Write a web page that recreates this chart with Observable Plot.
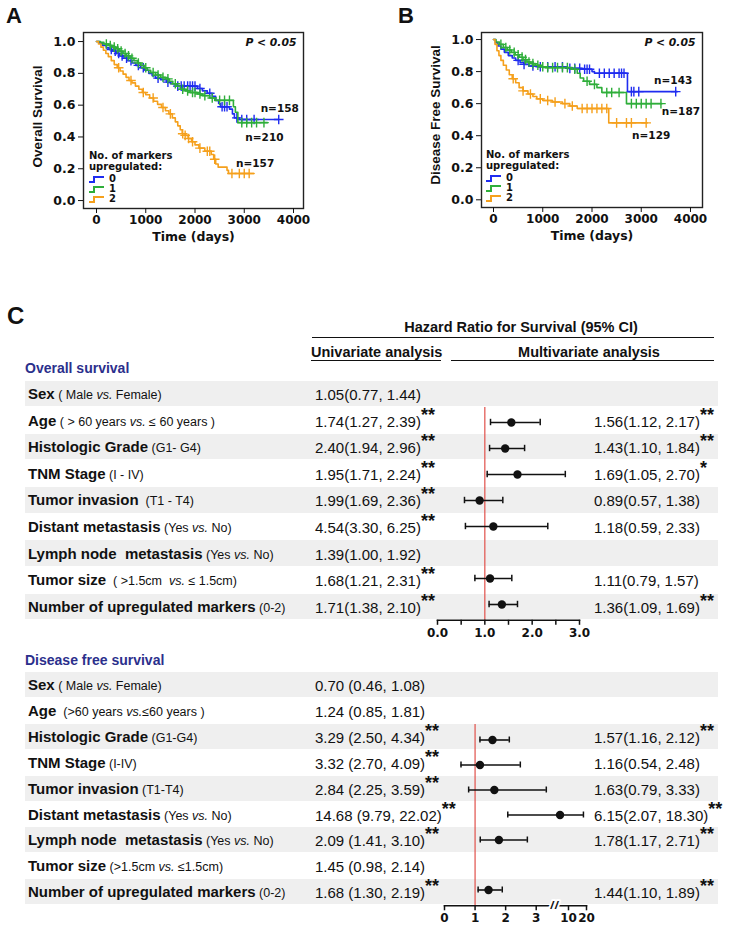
<!DOCTYPE html>
<html><head><meta charset="utf-8">
<script src="https://cdn.jsdelivr.net/npm/d3@7"></script>
<script src="https://cdn.jsdelivr.net/npm/@observablehq/plot@0.6"></script>
<style>
body{margin:0;background:#fff;}
#root{position:relative;width:735px;height:930px;overflow:hidden;font-family:"Liberation Sans",Arial,sans-serif;color:#111;}
.abs{position:absolute;white-space:pre;line-height:20px;}
.panel{font-weight:bold;font-size:22px;}
.leg{font-family:"DejaVu Sans";font-weight:bold;font-size:10px;line-height:10px;}
.band{position:absolute;left:25px;width:693px;background:#efefef;}
.lab{font-weight:bold;font-size:15px;}
.sub{font-weight:normal;font-size:12.5px;}
.val{font-size:15px;}
.sig{font-weight:bold;font-size:18px;position:relative;top:-6px;}
.hdr{font-weight:bold;font-size:14.5px;}
.sect{font-weight:bold;font-size:14px;color:#2b2f8c;}
.hline{position:absolute;height:0;border-top:1.6px solid #111;}
</style>
</head><body><div id="root"></div>
<script>
// ---------- Kaplan-Meier data (Panel A: overall survival) ----------
const groupNames = ["0", "1", "2"];
const osT0 = [0,60,120,200,260,330,400,470,560,640,720,800,900,980,1060,1130,1200,1300,1420,1500,1600,2050,2150,2250,2350,2420,2480,2520,2700,2760,2800,2900,3700];
const osS0 = [1,0.99,0.975,0.96,0.95,0.94,0.925,0.91,0.895,0.88,0.865,0.85,0.835,0.82,0.80,0.785,0.77,0.76,0.745,0.735,0.72,0.705,0.69,0.675,0.655,0.63,0.61,0.59,0.575,0.545,0.52,0.51,0.51];
const osC0 = [300,380,450,520,610,700,850,950,1250,1450,1650,1720,1780,1850,1900,1950,2000,2100,2300,2550,2600,2650,2850,2950,3050,3200,3700];
const osT1 = [0,80,150,250,330,400,470,540,600,680,760,830,900,970,1030,1100,1200,1300,1400,1480,1550,1620,1700,1800,1900,2050,2150,2300,2400,2780,2820,2870,3470];
const osS1 = [1,0.995,0.985,0.975,0.965,0.955,0.94,0.925,0.91,0.895,0.88,0.865,0.85,0.835,0.82,0.805,0.79,0.775,0.765,0.75,0.735,0.72,0.70,0.69,0.68,0.67,0.66,0.645,0.63,0.59,0.555,0.49,0.49];
const osC1 = [200,280,360,430,500,580,650,720,850,1000,1150,1250,1350,1450,1600,1750,1850,1950,2000,2100,2200,2350,2500,2600,2700,2950,3050,3150,3250,3400];
const osT2 = [0,40,90,140,190,240,300,360,420,480,540,600,660,720,790,860,930,1000,1080,1160,1240,1320,1400,1470,1540,1600,1650,1700,1740,1800,1860,1930,2000,2080,2200,2330,2380,2420,2470,2650,2680,3200];
const osS2 = [1,0.985,0.965,0.945,0.925,0.905,0.88,0.855,0.835,0.815,0.795,0.775,0.755,0.74,0.72,0.70,0.68,0.665,0.645,0.625,0.605,0.585,0.565,0.545,0.52,0.495,0.47,0.445,0.42,0.41,0.39,0.37,0.35,0.33,0.31,0.29,0.26,0.23,0.21,0.19,0.17,0.17];
const osC2 = [450,700,950,1150,1350,1500,1750,1800,1870,1950,2100,2250,2300,2400,2750,2900,3000,3100];
const osN = ["n=158", "n=210", "n=157"];

// ---------- Kaplan-Meier data (Panel B: disease free survival) ----------
const dfsT0 = [0,40,90,150,220,300,380,450,540,620,720,900,1500,1800,2000,2050,2720,3730];
const dfsS0 = [1,0.98,0.96,0.94,0.92,0.90,0.885,0.87,0.855,0.845,0.835,0.83,0.82,0.815,0.80,0.79,0.675,0.675];
const dfsC0 = [500,620,800,950,1100,1250,1400,1550,1650,1750,1850,1900,1950,2150,2250,2350,2450,2550,2600,2650,2800,2850,2950,3700];
const dfsT1 = [0,50,120,200,280,360,440,520,600,680,760,850,950,1050,1600,1700,1760,1830,1950,2100,2200,2700,3420];
const dfsS1 = [1,0.985,0.97,0.95,0.935,0.92,0.905,0.89,0.875,0.86,0.85,0.84,0.83,0.825,0.815,0.79,0.76,0.74,0.72,0.70,0.67,0.60,0.60];
const dfsC1 = [150,250,330,420,500,580,650,720,800,900,1000,1100,1200,1300,1400,1500,1650,1900,2050,2300,2400,2550,2800,2900,3000,3100,3200,3400];
const dfsT2 = [0,30,70,110,150,200,260,320,380,450,520,600,700,800,880,1000,1200,1400,1550,1700,2340,3120];
const dfsS2 = [1,0.97,0.93,0.90,0.87,0.84,0.81,0.78,0.755,0.73,0.70,0.68,0.66,0.645,0.63,0.62,0.61,0.60,0.585,0.57,0.48,0.48];
const dfsC2 = [400,600,750,950,1100,1250,1450,1600,1800,1900,2000,2100,2200,2300,2500,2700,2800,3100];
const dfsN = ["n=143", "n=187", "n=129"];

const timeTicks = [0, 1000, 2000, 3000, 4000];
const survTicks = [0, 0.2, 0.4, 0.6, 0.8, 1.0];

// ---------- Forest table data (Panel C) ----------
const osFactors = ["Sex","Age","Histologic Grade","TNM Stage","Tumor invasion","Distant metastasis","Lymph node  metastasis","Tumor size","Number of upregulated markers"];
const osSub = [" ( Male vs. Female)"," ( > 60 years vs. ≤ 60 years )"," (G1- G4)"," (I - IV)","  (T1 - T4)"," (Yes vs. No)"," (Yes vs. No)","  ( >1.5cm  vs. ≤ 1.5cm)"," (0-2)"];
const osUniHR = [1.05,1.74,2.40,1.95,1.99,4.54,1.39,1.68,1.71];
const osUniLo = [0.77,1.27,1.94,1.71,1.69,3.30,1.00,1.21,1.38];
const osUniHi = [1.44,2.39,2.96,2.24,2.36,6.25,1.92,2.31,2.10];
const osUniSig = ["","**","**","**","**","**","","**","**"];
const osMulHR = [null,1.56,1.43,1.69,0.89,1.18,null,1.11,1.36];
const osMulLo = [null,1.12,1.10,1.05,0.57,0.59,null,0.79,1.09];
const osMulHi = [null,2.17,1.84,2.70,1.38,2.33,null,1.57,1.69];
const osMulSig = ["","**","**","*","","","","","**"];
const osAxisTicks = [0, 1, 2, 3];
const osMinorTicks = [0.5, 1.5, 2.5];

const dfsFactors = ["Sex","Age","Histologic Grade","TNM Stage","Tumor invasion","Distant metastasis","Lymph node  metastasis","Tumor size","Number of upregulated markers"];
const dfsSub = [" ( Male vs. Female)","  (>60 years vs.≤60 years )"," (G1-G4)"," (I-IV)"," (T1-T4)"," (Yes vs. No)"," (Yes vs. No)"," (>1.5cm vs. ≤1.5cm)"," (0-2)"];
const dfsUniHR = [0.70,1.24,3.29,3.32,2.84,14.68,2.09,1.45,1.68];
const dfsUniLo = [0.46,0.85,2.50,2.70,2.25,9.79,1.41,0.98,1.30];
const dfsUniHi = [1.08,1.81,4.34,4.09,3.59,22.02,3.10,2.14,2.19];
const dfsUniSig = ["","","**","**","**","**","**","","**"];
const dfsMulHR = [null,null,1.57,1.16,1.63,6.15,1.78,null,1.44];
const dfsMulLo = [null,null,1.16,0.54,0.79,2.07,1.17,null,1.10];
const dfsMulHi = [null,null,2.12,2.48,3.33,18.30,2.71,null,1.89];
const dfsMulSig = ["","","**","","","**","**","","**"];
const dfsAxisTicks = [0, 1, 2, 3, 10, 20];

// ---------- helpers ----------
const root = document.getElementById("root");
const kmColors = ["#1f2cf0", "#2fae3a", "#f5a01c"];
function el(html, left, top, cls, style) {
  const d = document.createElement("div");
  d.className = "abs " + (cls || "");
  d.style.left = left + "px"; d.style.top = top + "px";
  d.innerHTML = html;
  if (style) Object.assign(d.style, style);
  root.appendChild(d);
  return d;
}
function hline(x1, x2, y) {
  const d = document.createElement("div");
  d.className = "hline";
  d.style.left = x1 + "px"; d.style.width = (x2 - x1) + "px"; d.style.top = y + "px";
  root.appendChild(d);
}
function stepAt(ts, ss, c) {
  let v = ss[0];
  for (let i = 0; i < ts.length; i++) if (ts[i] <= c) v = ss[i];
  return v;
}

function kmPlot(cfg) {
  const marks = [];
  cfg.groups.forEach((g, i) => {
    const pts = g.t.map((t, j) => ({t, s: g.s[j]}));
    marks.push(Plot.line(pts, {x: "t", y: "s", curve: "step-after", stroke: kmColors[i], strokeWidth: 1.6}));
    const cens = g.c.map(c => ({t: c, s: stepAt(g.t, g.s, c)}));
    marks.push(Plot.dot(cens, {x: "t", y: "s", symbol: "plus", r: 3.2, stroke: kmColors[i], strokeWidth: 1.4}));
  });
  cfg.groups.forEach((g, i) => {
    const end = {t: g.t[g.t.length - 1], s: g.s[g.s.length - 1], label: cfg.n[i]};
    marks.push(Plot.text([end], {x: "t", y: "s", text: "label", dx: cfg.ndx[i], dy: cfg.ndy[i],
      fontFamily: "DejaVu Sans", fontWeight: "bold", fontSize: 10.5, fill: "#111"}));
  });
  marks.push(Plot.frame({stroke: "#222", strokeWidth: 1.4}));
  marks.push(Plot.axisX({ticks: timeTicks, tickFormat: d => String(d), tickSize: 5, tickPadding: 2, label: null,
    fontFamily: "DejaVu Sans", fontWeight: "bold", fontSize: 12}));
  marks.push(Plot.axisY({ticks: survTicks, tickFormat: ".1f", tickSize: 5, tickPadding: 3, label: null,
    fontFamily: "DejaVu Sans", fontWeight: "bold", fontSize: 12.5}));
  marks.push(Plot.text(["Time (days)"], {text: d => d, frameAnchor: "bottom", textAnchor: "middle", lineAnchor: "middle", dy: 28,
    fontFamily: "DejaVu Sans", fontWeight: "bold", fontSize: 12.5, fill: "#111"}));
  marks.push(Plot.text([cfg.ylabel], {text: d => d, frameAnchor: "left", textAnchor: "middle", lineAnchor: "middle",
    rotate: -90, dx: -46, dy: cfg.ylabelDy,
    fontFamily: "Liberation Sans", fontWeight: "bold", fontSize: 13.5, fill: "#111"}));
  marks.push(Plot.text(["P < 0.05"], {text: d => d, frameAnchor: "top-right", textAnchor: "end", lineAnchor: "middle", dx: -7, dy: 10,
    fontFamily: "DejaVu Sans", fontWeight: "bold", fontStyle: "italic", fontSize: 10.8, fill: "#111"}));
  return Plot.plot({
    width: 365, height: 245,
    marginLeft: cfg.ml, marginRight: cfg.mr, marginTop: 32, marginBottom: cfg.mb,
    x: {domain: cfg.xdom}, y: {domain: cfg.ydom},
    style: {background: "transparent", overflow: "visible"},
    marks
  });
}

// Panel A
const pa = kmPlot({
  groups: [{t: osT0, s: osS0, c: osC0}, {t: osT1, s: osS1, c: osC1}, {t: osT2, s: osS2, c: osC2}],
  n: osN, ndx: [1, -3, 1], ndy: [-11, 15, -10],
  ml: 83, mr: 62, mb: 37, xdom: [-264, 4203], ydom: [-0.050, 1.057],
  ylabel: "Overall Survival", ylabelDy: -4
});
const wa = document.createElement("div"); wa.style.cssText = "position:absolute;left:0;top:0";
wa.appendChild(pa); root.appendChild(wa);

// Panel B
const pb = kmPlot({
  groups: [{t: dfsT0, s: dfsS0, c: dfsC0}, {t: dfsT1, s: dfsS1, c: dfsC1}, {t: dfsT2, s: dfsS2, c: dfsC2}],
  n: dfsN, ndx: [-4, 19, 4], ndy: [-11, 8, 13],
  ml: 111, mr: 33, mb: 38, xdom: [-244, 4244], ydom: [-0.048, 1.044],
  ylabel: "Disease Free Survival", ylabelDy: -5
});
const wb = document.createElement("div"); wb.style.cssText = "position:absolute;left:370px;top:0";
wb.appendChild(pb); root.appendChild(wb);

// Panel letters
el("A", 6, 6, "panel");
el("B", 398, 6, "panel");
el("C", 7, 306, "panel", {fontSize: "24px"});

// KM legends
function legend(left, top) {
  el("No. of markers", left, top, "leg");
  el("upregulated:", left, top + 11, "leg");
  groupNames.forEach((g, i) => {
    const icon = `<svg width="15" height="7" style="vertical-align:middle;margin-right:5px"><path d="M0,6H5V1H15" fill="none" stroke="${kmColors[i]}" stroke-width="2"/></svg>`;
    el(icon + g, left, top + 23 + i * 10, "leg", {lineHeight: "10px"});
  });
}
legend(89, 151);
legend(486, 150);

// ---------- Panel C table ----------
el("Hazard Ratio for Survival (95% CI)", 521, 317, "hdr", {transform: "translateX(-50%)"});
hline(312, 714, 337);
el("Univariate analysis", 311, 342, "hdr");
hline(311, 441, 360);
el("Multivariate analysis", 589, 342, "hdr", {transform: "translateX(-50%)"});
hline(451, 714, 360);

function italVs(s) { return s.replace(/vs\./g, "<i>vs.</i>"); }
function fmt(hr, lo, hi, sp) { return `${hr.toFixed(2)}${sp}(${lo.toFixed(2)}, ${hi.toFixed(2)})`; }

function table(sec) {
  el(sec.title, 25, sec.titleY - 10, "sect");
  sec.factors.forEach((f, i) => {
    const cy = sec.y0 + i * sec.step;
    if (i % 2 === 0) {
      const b = document.createElement("div");
      b.className = "band";
      b.style.top = (cy - sec.step / 2) + "px"; b.style.height = (sec.step - 1) + "px";
      root.appendChild(b);
    }
  });
  sec.factors.forEach((f, i) => {
    const cy = sec.y0 + i * sec.step;
    el(`<span class="lab">${f}</span><span class="sub">${italVs(sec.sub[i])}</span>`, 28, cy - 10);
    el(`<span class="val">${fmt(sec.uhr[i], sec.ulo[i], sec.uhi[i], sec.usp)}</span><span class="sig">${sec.usig[i]}</span>`, 315, cy - 10);
    if (sec.mhr[i] != null)
      el(`<span class="val">${fmt(sec.mhr[i], sec.mlo[i], sec.mhi[i], "")}</span><span class="sig">${sec.msig[i]}</span>`, 594, cy - 10);
  });
}

table({title: "Overall survival", titleY: 368, y0: 394, step: 26.6, factors: osFactors, sub: osSub,
  uhr: osUniHR, ulo: osUniLo, uhi: osUniHi, usig: osUniSig, usp: "",
  mhr: osMulHR, mlo: osMulLo, mhi: osMulHi, msig: osMulSig});
table({title: "Disease free survival", titleY: 660, y0: 685, step: 25.9, factors: dfsFactors, sub: dfsSub,
  uhr: dfsUniHR, ulo: dfsUniLo, uhi: dfsUniHi, usig: dfsUniSig, usp: " ",
  mhr: dfsMulHR, mlo: dfsMulLo, mhi: dfsMulHi, msig: dfsMulSig});

// ---------- Forest plots ----------
function forestPlot(cfg) {
  const rows = cfg.factors.slice(cfg.first);
  const data = [];
  cfg.factors.forEach((f, i) => {
    if (cfg.hr[i] != null) data.push({f, hr: cfg.hr[i], lo: cfg.lo[i], hi: cfg.hi[i]});
  });
  const marks = [
    Plot.ruleX([1], {stroke: "#e0504a", strokeWidth: 1.2}),
    Plot.ruleY(data, {y: "f", x1: "lo", x2: "hi", stroke: "#111", strokeWidth: 1.6}),
    Plot.tickX(data, {x: "lo", y: "f", stroke: "#111", strokeWidth: 1.5, insetTop: cfg.cap, insetBottom: cfg.cap}),
    Plot.tickX(data, {x: "hi", y: "f", stroke: "#111", strokeWidth: 1.5, insetTop: cfg.cap, insetBottom: cfg.cap}),
    Plot.dot(data, {x: "hr", y: "f", r: 4.2, fill: "#111"}),
    Plot.frame({anchor: "bottom", stroke: "#111", strokeWidth: 1.6}),
    Plot.axisX({ticks: cfg.ticks, tickFormat: cfg.tickFormat, tickSize: 5, tickPadding: 3, label: null,
      fontFamily: "DejaVu Sans", fontWeight: "bold", fontSize: 12, strokeWidth: 1.5, stroke: "#111"}),
  ];
  if (cfg.minor) marks.push(Plot.axisX({ticks: cfg.minor, tickFormat: () => "", tickSize: 5, label: null, strokeWidth: 1.5, stroke: "#111"}));
  if (cfg.breakAt != null) marks.push(Plot.text([cfg.breakAt], {x: d => d, text: () => "//", frameAnchor: "bottom", lineAnchor: "middle",
    fill: "#111", stroke: "white", strokeWidth: 4, paintOrder: "stroke", fontSize: 11, fontWeight: "bold"}));
  const innerH = rows.length * cfg.step;
  const p = Plot.plot({
    width: 735, height: innerH + 30,
    marginTop: 0, marginBottom: 30, marginLeft: cfg.ml, marginRight: cfg.mr,
    x: cfg.x,
    y: {domain: rows, type: "band", padding: 0, axis: null},
    style: {background: "transparent", overflow: "visible"},
    marks
  });
  const w = document.createElement("div");
  w.style.cssText = `position:absolute;left:0;top:${cfg.top}px`;
  w.appendChild(p); root.appendChild(w);
}

forestPlot({factors: osFactors, first: 1, hr: osMulHR, lo: osMulLo, hi: osMulHi, step: 26.6, cap: 9.8,
  top: 394 + 26.6 - 13.3, ml: 437, mr: 156, x: {domain: [0, 3]},
  ticks: osAxisTicks, tickFormat: d => d.toFixed(1), minor: osMinorTicks});
forestPlot({factors: dfsFactors, first: 2, hr: dfsMulHR, lo: dfsMulLo, hi: dfsMulHi, step: 25.9, cap: 9.5,
  top: 685 + 2 * 25.9 - 12.95, ml: 444, mr: 149,
  x: {type: "linear", domain: [0, 3.5, 5, 10, 20], range: [444, 551, 557, 568, 586]},
  ticks: dfsAxisTicks, tickFormat: d => String(d), breakAt: 4.25});
</script></body></html>
